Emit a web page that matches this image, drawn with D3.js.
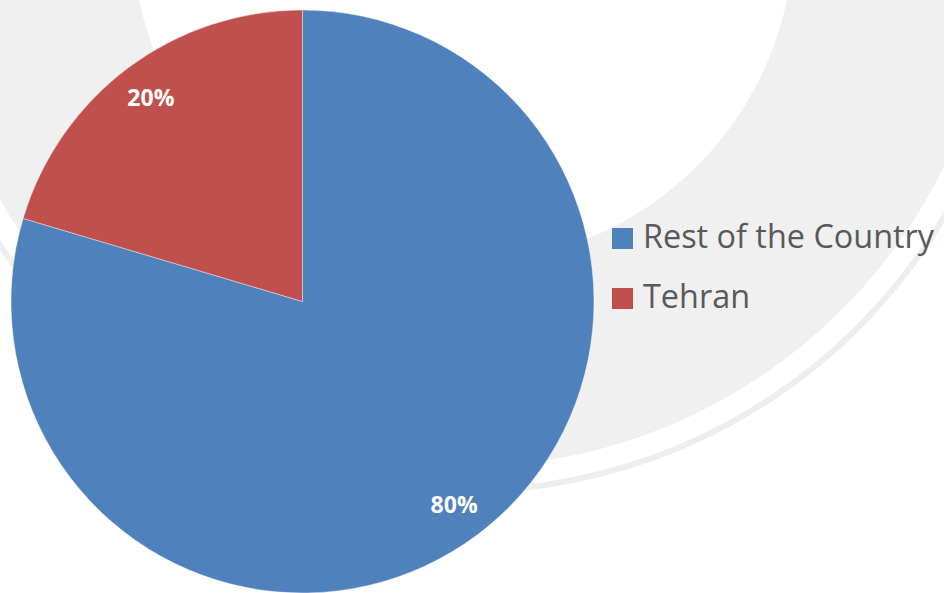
<!DOCTYPE html>
<html>
<head>
<meta charset="utf-8">
<script src="https://cdn.jsdelivr.net/npm/d3@7"></script>
<style>
  html, body { margin: 0; padding: 0; background: #fff; }
  svg { display: block; }
</style>
</head>
<body>
<div id="chart"></div>
<script>
// data
var categories = ["Rest of the Country", "Tehran"];
var values = [79.6, 20.4];
var colors = ["#4F81BD", "#C0504D"];

var svgWidth = 944;
var svgHeight = 593;

var svg = d3.select("#chart")
    .append("svg")
    .attr("width", svgWidth)
    .attr("height", svgHeight);

// faint seal watermark behind the chart
var mark = svg.append("g")
    .attr("transform", "translate(463, -68)");
mark.append("path")
    .attr("d", d3.arc()({innerRadius: 331, outerRadius: 535, startAngle: 0, endAngle: 2 * Math.PI}))
    .attr("fill", "#f0f0f0");
mark.append("path")
    .attr("d", d3.arc()({innerRadius: 556, outerRadius: 562, startAngle: 0, endAngle: 2 * Math.PI}))
    .attr("fill", "#eeeeee");

// pie
var cx = 302.5, cy = 301.5, radius = 291.5;
var total = d3.sum(values);
var pct = d3.format(".0%");

var pie = d3.pie()
    .sort(null)
    .value(d => d.value);

var data = categories.map((c, i) => ({name: c, value: values[i], color: colors[i]}));

var arc = d3.arc().innerRadius(0).outerRadius(radius);
var labelArc = d3.arc().innerRadius(radius * 0.87).outerRadius(radius * 0.87);

var pieGroup = svg.append("g")
    .attr("transform", `translate(${cx}, ${cy})`);

pieGroup.selectAll("path")
    .data(pie(data))
    .enter()
    .append("path")
    .attr("d", arc)
    .attr("fill", d => d.data.color)
    .attr("stroke", "#ffffff")
    .attr("stroke-opacity", 0.5)
    .attr("stroke-width", 0.8);

pieGroup.selectAll("text")
    .data(pie(data))
    .enter()
    .append("text")
    .attr("transform", d => `translate(${labelArc.centroid(d)})`)
    .attr("text-anchor", "middle")
    .attr("dy", "0.36em")
    .attr("fill", "#ffffff")
    .attr("font-family", "'Open Sans', 'Liberation Sans', sans-serif")
    .attr("font-weight", "bold")
    .attr("font-size", "23px")
    .text(d => pct(d.data.value / total));

// legend
var legend = svg.append("g")
    .attr("transform", "translate(612, 228)");

var items = legend.selectAll("g")
    .data(data)
    .enter()
    .append("g")
    .attr("transform", (d, i) => `translate(0, ${i * 60})`);

items.append("rect")
    .attr("width", 21)
    .attr("height", 21)
    .attr("fill", d => d.color);

var labels = items.append("text")
    .attr("x", 31)
    .attr("y", 20)
    .attr("fill", "#595959")
    .attr("font-family", "'Open Sans', 'Liberation Sans', sans-serif")
    .attr("font-size", "28px")
    .text(d => d.name);

// fit the font so the long label spans about 291px like the original
var w = labels.nodes()[0].getComputedTextLength();
labels.attr("font-size", (28 * 291 / w).toFixed(1) + "px");
</script>
</body>
</html>
